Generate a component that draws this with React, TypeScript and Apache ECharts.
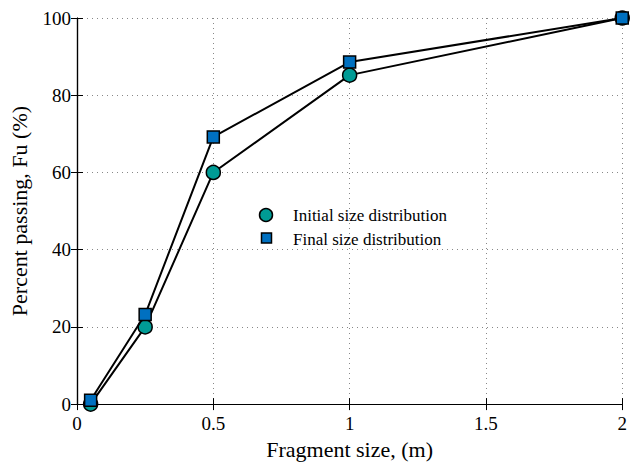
import React, { useEffect, useRef } from "react";
import * as echarts from "echarts";

const xInitial = [0.05, 0.25, 0.5, 1, 2];
const yInitial = [0, 20, 60, 85.2, 100];
const xFinal = [0.05, 0.25, 0.5, 1, 2];
const yFinal = [1, 23.2, 69.2, 88.6, 100];
const seriesNames = ["Initial size distribution", "Final size distribution"];
const xTicks = [0, 0.5, 1, 1.5, 2];

const FONT = "Liberation Serif";
const TEAL = "#009b95";
const BLUE = "#0070c0";

export default function App() {
  const ref = useRef<HTMLDivElement>(null);
  useEffect(() => {
    const chart = echarts.init(ref.current!, null, { renderer: "svg" });
    const axisLine = { show: true, lineStyle: { color: "#000", width: 1.2 } };
    const split = { show: true, lineStyle: { color: "#888", type: [1, 4] as any, width: 1 } };
    const fmtX = (v: number) => (xTicks.includes(v) ? String(v) : "");
    chart.setOption({
      animation: false,
      backgroundColor: "#fff",
      grid: { left: 73, top: 18, right: 6, bottom: 53, containLabel: false },
      xAxis: [
        {
          type: "value", min: 0, max: 2, interval: 0.5,
          axisLine, axisTick: { show: true, inside: true, length: 6, lineStyle: { color: "#000" } },
          splitLine: split,
          axisLabel: { color: "#000", fontFamily: FONT, fontSize: 19, margin: 10, formatter: fmtX },
          name: "Fragment size, (m)", nameLocation: "middle", nameGap: 32,
          nameTextStyle: { color: "#000", fontFamily: FONT, fontSize: 22 },
        },
        {
          type: "value", min: 0, max: 2, interval: 0.5, position: "top",
          axisLine, axisTick: { show: true, inside: true, length: 6, lineStyle: { color: "#000" } },
          splitLine: { show: false }, axisLabel: { show: false },
        },
      ],
      yAxis: [
        {
          type: "value", min: 0, max: 100, interval: 20,
          axisLine, axisTick: { show: true, inside: true, length: 6, lineStyle: { color: "#000" } },
          splitLine: split,
          axisLabel: { color: "#000", fontFamily: FONT, fontSize: 19, margin: 6 },
          name: "Percent passing, Fu (%)", nameLocation: "middle", nameGap: 47,
          nameTextStyle: { color: "#000", fontFamily: FONT, fontSize: 22 },
        },
        {
          type: "value", min: 0, max: 100, interval: 20, position: "right",
          axisLine, axisTick: { show: true, inside: true, length: 6, lineStyle: { color: "#000" } },
          splitLine: { show: false }, axisLabel: { show: false },
        },
      ],
      graphic: [
        { type: "circle", shape: { cx: 266, cy: 215, r: 6.5 }, style: { fill: TEAL, stroke: "#000", lineWidth: 1.5 }, z: 10 },
        { type: "rect", shape: { x: 261.5, y: 233, width: 10, height: 10 }, style: { fill: BLUE, stroke: "#000", lineWidth: 1.5 }, z: 10 },
        { type: "text", x: 293, y: 215, style: { text: seriesNames[0], fill: "#000", font: `17px "${FONT}"`, textVerticalAlign: "middle", verticalAlign: "middle" }, z: 10 },
        { type: "text", x: 293, y: 239, style: { text: seriesNames[1], fill: "#000", font: `17px "${FONT}"`, textVerticalAlign: "middle", verticalAlign: "middle" }, z: 10 },
      ],
      series: [
        {
          name: seriesNames[0], type: "line",
          data: xInitial.map((x, i) => [x, yInitial[i]]),
          symbol: "circle", symbolSize: 14,
          lineStyle: { color: "#000", width: 2 },
          itemStyle: { color: TEAL, borderColor: "#000", borderWidth: 1.5 },
          z: 3,
        },
        {
          name: seriesNames[1], type: "line",
          data: xFinal.map((x, i) => [x, yFinal[i]]),
          symbol: "rect", symbolSize: 12,
          lineStyle: { color: "#000", width: 2 },
          itemStyle: { color: BLUE, borderColor: "#000", borderWidth: 1.5 },
          z: 4,
        },
      ],
    });
    return () => chart.dispose();
  }, []);
  return <div ref={ref} style={{ width: 630, height: 465, position: "absolute", left: 0, top: 0 }} />;
}
